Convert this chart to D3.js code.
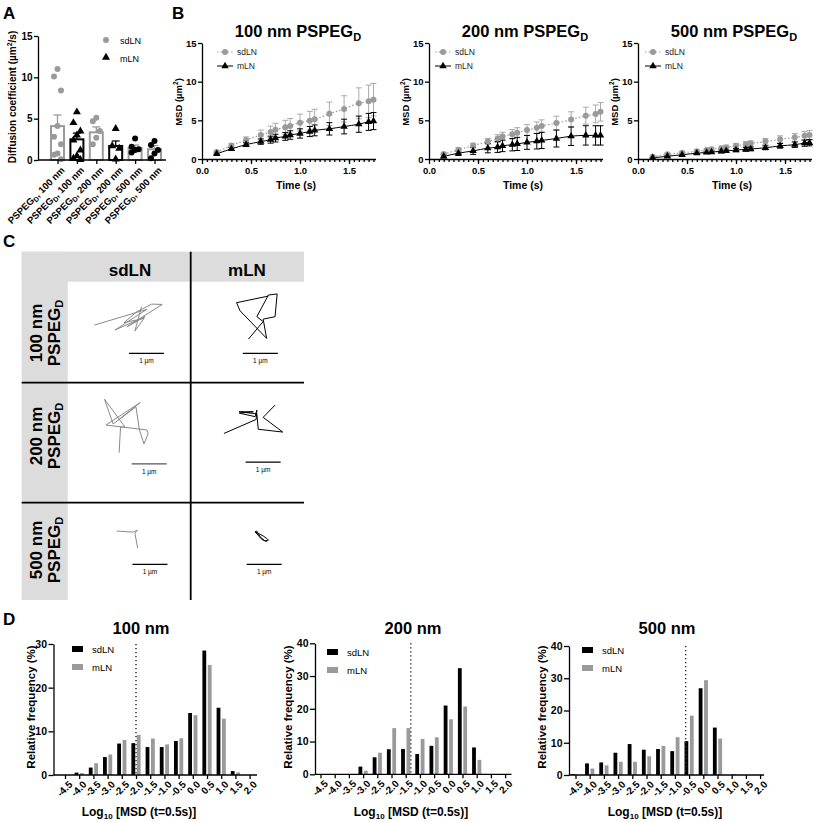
<!DOCTYPE html>
<html><head><meta charset="utf-8">
<script src="https://cdn.jsdelivr.net/npm/d3@7/dist/d3.min.js"></script>
<style>html,body{margin:0;padding:0;background:#fff;}</style>
</head><body>
<svg id="fig" width="817" height="822"></svg>
<script>
// ================= DATA =================
// Panel A
const aSizes = ["100 nm","100 nm","200 nm","200 nm","500 nm","500 nm"];
const aNodes = ["sdLN","mLN","sdLN","mLN","sdLN","mLN"];
const aMeans = [4.1, 2.5, 3.35, 1.7, 1.45, 1.3];
const aSem = [1.35, 0.75, 0.65, 0.6, 0.35, 0.45];
const aPoints = [
  [11.0, 10.1, 8.4, 4.1, 2.8, 1.9, 0.8, 0.65, 0.1],
  [5.8, 4.5, 3.5, 3.0, 2.4, 1.2, 0.5, 0.2, 0.05],
  [5.1, 4.7, 3.5, 2.7, 1.9],
  [3.8, 1.7, 1.4, 0.1],
  [2.6, 1.6, 1.3, 1.2, 0.9],
  [2.3, 1.8, 1.2, 0.8, 0.2]
];
const aTicks = [0, 5, 10, 15];

// Panel B
const bTime = [0.15,0.3,0.45,0.6,0.7,0.75,0.85,0.9,1.0,1.1,1.15,1.3,1.45,1.6,1.7,1.75];
const bTitles = ["100 nm PSPEG","200 nm PSPEG","500 nm PSPEG"];
const b100Sd    = [0.89,1.74,2.46,3.09,3.5,3.77,4.1,4.28,4.7,4.96,5.13,5.85,6.48,7.2,7.46,7.67];
const b100SdErr = [0.15,0.25,0.4,0.65,0.75,0.85,0.9,0.95,1.1,1.2,1.3,1.5,1.7,2.0,2.1,2.1];
const b100M     = [0.68,1.31,1.86,2.25,2.5,2.7,2.92,3.1,3.3,3.55,3.7,3.9,4.2,4.5,4.8,4.9];
const b100MErr  = [0.1,0.2,0.25,0.35,0.45,0.5,0.5,0.55,0.6,0.65,0.7,0.8,0.95,1.05,1.1,1.1];
const b200Sd    = [0.64,1.19,1.74,2.26,2.64,2.9,3.2,3.4,3.74,4.04,4.26,4.64,5.1,5.6,5.83,6.1];
const b200SdErr = [0.15,0.25,0.3,0.4,0.5,0.55,0.6,0.65,0.7,0.75,0.8,0.9,1.0,1.1,1.15,1.2];
const b200M     = [0.34,0.75,1.05,1.4,1.55,1.7,1.85,1.95,2.15,2.3,2.4,2.65,2.95,3.05,3.05,3.05];
const b200MErr  = [0.2,0.3,0.45,0.6,0.7,0.75,0.8,0.85,0.9,1.0,1.05,1.1,1.2,1.25,1.25,1.25];
const b500Sd    = [0.3,0.6,0.8,1.0,1.15,1.25,1.4,1.5,1.7,1.9,2.0,2.25,2.55,2.8,3.0,3.1];
const b500SdErr = [0.1,0.15,0.15,0.2,0.2,0.25,0.25,0.3,0.3,0.35,0.35,0.4,0.45,0.5,0.55,0.6];
const b500M     = [0.15,0.35,0.55,0.75,0.85,0.9,1.0,1.05,1.15,1.25,1.3,1.45,1.7,1.85,2.05,2.1];
const b500MErr  = [0.05,0.1,0.1,0.15,0.15,0.15,0.2,0.2,0.2,0.25,0.25,0.25,0.3,0.35,0.4,0.4];
const bYTicks = [0, 5, 10, 15];
const bXTicks = [0, 0.5, 1.0, 1.5];

// Panel C (trajectories in µm, cell-relative)
const cCols = ["sdLN", "mLN"];
const cRows = ["100 nm", "200 nm", "500 nm"];
const trajSd100 = [[0.76,1.24],[2.26,0.79],[1.35,1.38],[2.21,1.0],[1.69,1.29],[2.70,0.65],[2.40,0.64],[1.97,0.86],[1.61,1.17],[2.18,1.05],[1.92,1.41],[2.11,0.71]];
const trajM100  = [[1.65,1.64],[2.07,1.14],[1.89,1.0],[2.22,0.38],[2.47,0.35],[2.41,1.0],[2.07,1.07],[2.17,1.62],[1.41,0.83],[1.31,0.6],[2.22,0.41]];
const trajSd200 = [[1.47,2.0],[1.51,1.26],[1.64,1.27],[1.05,0.47],[1.30,1.18],[2.07,0.57],[1.09,1.21],[2.26,1.35],[2.30,1.45],[2.18,1.75],[2.05,1.35],[1.95,0.69],[1.45,1.07]];
const trajM200  = [[0.95,1.45],[1.87,1.05],[1.89,0.78],[1.84,0.97],[1.39,0.87],[1.79,0.83],[1.38,0.83],[1.89,0.89],[1.93,1.33],[2.63,1.41],[2.07,0.99],[2.41,0.64]];
const trajSd500 = [[1.4,0.81],[1.87,0.84],[1.99,0.78],[1.92,0.87],[2.0,1.30]];
const trajM500  = [[1.84,0.83],[2.07,0.95],[2.17,1.02],[2.22,1.07],[2.12,1.09],[1.98,0.97],[1.89,0.81],[1.84,0.83],[2.03,1.05],[2.17,1.11]];

// Panel D
const dBins = [-4.5,-4.0,-3.5,-3.0,-2.5,-2.0,-1.5,-1.0,-0.5,0.0,0.5,1.0,1.5,2.0];
const dTitles = ["100 nm","200 nm","500 nm"];
const d100Sd = [0,0.55,1.7,4.1,7.2,7.3,6.4,6.4,7.8,14.2,28.5,15.4,0.9,0];
const d100M  = [0,0.45,2.7,4.7,8.0,9.2,8.35,7.0,8.4,13.7,25.2,12.9,0.6,0];
const d200Sd = [0,0,0,2.35,5.2,7.65,7.75,6.2,8.7,21.0,32.4,8.2,0,0];
const d200M  = [0,0,0,1.1,6.6,14.1,14.1,10.8,11.3,16.8,20.7,4.4,0,0];
const d500Sd = [0.3,3.6,3.9,6.9,9.6,7.85,8.05,7.4,10.5,26.9,14.7,0,0,0];
const d500M  = [0,2.0,3.0,4.1,4.1,5.8,9.0,11.7,18.4,29.4,11.3,0.3,0,0];
const dThresholds = [-2.0, -1.32, -0.62];
const d100Ticks = [0,10,20,30];
const d200Ticks = [0,10,20,30,40];

// ================= DRAWING =================
const FONT = '"Liberation Sans", Arial, Helvetica, sans-serif';
const GRAY = "#9a9a9a";
const svg = d3.select("#fig").attr("font-family", FONT);
svg.append("rect").attr("width",817).attr("height",822).attr("fill","#fff");

function styleAxis(sel, fs) {
  sel.attr("font-family", FONT).attr("font-size", fs).attr("font-weight", "bold");
  sel.selectAll(".domain, .tick line").attr("stroke", "#000").attr("stroke-width", 1.3);
  sel.selectAll("text").attr("fill", "#000");
  return sel;
}
function label(g, x, y, t, o = {}) {
  return g.append("text").attr("x", x).attr("y", y).text(t)
    .attr("font-size", o.fs || 10).attr("font-weight", o.fw || "bold")
    .attr("text-anchor", o.anchor || "start").attr("fill", o.fill || "#000");
}

// Panel letters
[["A",3,19],["B",172,19],["C",3,247],["D",3,625]].forEach(([t,x,y]) => label(svg, x, y, t, {fs: 17}));

// ---------- Panel A ----------
(function () {
  const g = svg.append("g");
  const y = d3.scaleLinear().domain([0, 15]).range([160, 36]);
  const x = d3.scalePoint().domain(d3.range(aMeans.length)).range([57.5, 154.5]);
  const barStroke = aNodes.map((n, i) => (aSizes[i] === "500 nm" || n === "sdLN") ? GRAY : "#000");
  const ptFill = aNodes.map((n, i) => (aSizes[i] === "500 nm" || n === "mLN") ? "#000" : GRAY);
  const ptTri = aNodes.map((n, i) => n === "mLN" && aSizes[i] !== "500 nm");
  const jit = [0, -3.5, 3.5];

  g.selectAll("rect.bar").data(aMeans).join("rect").attr("class", "bar")
    .attr("x", (d, i) => x(i) - 6.5).attr("width", 13)
    .attr("y", d => y(d)).attr("height", d => y(0) - y(d))
    .attr("fill", "none").attr("stroke", (d, i) => barStroke[i]).attr("stroke-width", 2);

  aMeans.forEach((m, i) => {
    const top = y(m + aSem[i]);
    g.append("line").attr("x1", x(i)).attr("x2", x(i)).attr("y1", y(m)).attr("y2", top)
      .attr("stroke", barStroke[i]).attr("stroke-width", 1.3);
    g.append("line").attr("x1", x(i) - 4).attr("x2", x(i) + 4).attr("y1", top).attr("y2", top)
      .attr("stroke", barStroke[i]).attr("stroke-width", 1.3);
  });

  aPoints.forEach((arr, i) => {
    arr.forEach((v, j) => {
      const px = x(i) + jit[j % 3], py = y(v);
      if (ptTri[i]) {
        g.append("path").attr("d", d3.symbol(d3.symbolTriangle, 28)())
          .attr("transform", `translate(${px},${py})`).attr("fill", ptFill[i]);
      } else {
        g.append("circle").attr("cx", px).attr("cy", py).attr("r", 3).attr("fill", ptFill[i]);
      }
    });
  });

  const ay = g.append("g").attr("transform", "translate(38,0)")
    .call(d3.axisLeft(y).tickValues(aTicks).tickSize(4).tickSizeOuter(0).tickPadding(1.5));
  styleAxis(ay, 10);
  const ax = g.append("g").attr("transform", "translate(0,160)")
    .call(d3.axisBottom(x).tickSize(4).tickFormat(""));
  ax.select(".domain").remove();
  styleAxis(ax, 9);
  g.append("line").attr("x1", 38).attr("x2", 166).attr("y1", 160).attr("y2", 160)
    .attr("stroke", "#000").attr("stroke-width", 1.3);

  aSizes.forEach((s, i) => {
    const t = g.append("text").attr("transform", `translate(${x(i) + 3},166) rotate(-45)`)
      .attr("text-anchor", "end").attr("dy", "0.72em")
      .attr("font-size", 9.5).attr("font-weight", "bold");
    t.append("tspan").text("PSPEG");
    t.append("tspan").text("D").attr("font-size", 7).attr("dy", 2);
    t.append("tspan").text(", " + s).attr("dy", -2);
  });

  const yl = g.append("text").attr("transform", "translate(16,97) rotate(-90)")
    .attr("text-anchor", "middle").attr("font-size", 10).attr("font-weight", "bold");
  yl.append("tspan").text("Diffusion coefficient (\u00b5m");
  yl.append("tspan").text("2").attr("font-size", 7).attr("dy", -4);
  yl.append("tspan").text("/s)").attr("dy", 4);

  // legend
  g.append("circle").attr("cx", 106).attr("cy", 40).attr("r", 3).attr("fill", GRAY);
  label(g, 120, 43.5, "sdLN", {fs: 9, fw: "normal"});
  g.append("path").attr("d", d3.symbol(d3.symbolTriangle, 28)()).attr("transform", "translate(106,57.5)");
  label(g, 120, 61.5, "mLN", {fs: 9, fw: "normal"});
})();

// ---------- Panel B ----------
const bCharts = [
  {ax: 202, sd: b100Sd, sdE: b100SdErr, m: b100M, mE: b100MErr, leg: 15, title: bTitles[0]},
  {ax: 429, sd: b200Sd, sdE: b200SdErr, m: b200M, mE: b200MErr, leg: 6, title: bTitles[1]},
  {ax: 638, sd: b500Sd, sdE: b500SdErr, m: b500M, mE: b500MErr, leg: 7, title: bTitles[2]}
];
bCharts.forEach(cfg => {
  const g = svg.append("g");
  const x = d3.scaleLinear().domain([0, 1.77]).range([cfg.ax, cfg.ax + 1.77 * 98]);
  const y = d3.scaleLinear().domain([0, 15]).range([159, 43]);

  const gy = g.append("g").attr("transform", `translate(${cfg.ax},0)`)
    .call(d3.axisLeft(y).tickValues(bYTicks).tickSize(4).tickSizeOuter(0).tickPadding(1.5));
  styleAxis(gy, 9.5);
  const gx = g.append("g").attr("transform", "translate(0,159)")
    .call(d3.axisBottom(x).tickValues(bXTicks).tickSize(5).tickSizeOuter(0).tickPadding(3)
      .tickFormat(d => d.toFixed(1)));
  styleAxis(gx, 9.5);
  const gm = g.append("g").attr("transform", "translate(0,159)")
    .call(d3.axisBottom(x).tickValues(d3.range(1, 36).map(k => k * 0.05)).tickSize(3).tickFormat(""));
  gm.select(".domain").remove();
  styleAxis(gm, 9);

  function errs(vals, e, col) {
    vals.forEach((v, i) => {
      const cx = x(bTime[i]), t = y(v + e[i]), b = y(Math.max(0, v - e[i]));
      g.append("line").attr("x1", cx).attr("x2", cx).attr("y1", t).attr("y2", b).attr("stroke", col).attr("stroke-width", 1);
      [t, b].forEach(yy => g.append("line").attr("x1", cx - 3).attr("x2", cx + 3).attr("y1", yy).attr("y2", yy).attr("stroke", col).attr("stroke-width", 1));
    });
  }
  errs(cfg.sd, cfg.sdE, "#aaaaaa");
  errs(cfg.m, cfg.mE, "#000");

  const line = d3.line().x((d, i) => x(bTime[i])).y(d => y(d)).curve(d3.curveMonotoneX);
  g.append("path").attr("d", line(cfg.sd)).attr("fill", "none").attr("stroke", GRAY)
    .attr("stroke-width", 1.2).attr("stroke-dasharray", "1.5,2");
  g.append("path").attr("d", line(cfg.m)).attr("fill", "none").attr("stroke", "#000").attr("stroke-width", 1);

  cfg.sd.forEach((v, i) => g.append("circle").attr("cx", x(bTime[i])).attr("cy", y(v)).attr("r", 3).attr("fill", GRAY));
  cfg.m.forEach((v, i) => g.append("path").attr("d", d3.symbol(d3.symbolTriangle, 24)())
    .attr("transform", `translate(${x(bTime[i])},${y(v)})`).attr("fill", "#000"));

  // legend
  const lx = cfg.ax + cfg.leg;
  g.append("line").attr("x1", lx).attr("x2", lx + 16).attr("y1", 52).attr("y2", 52)
    .attr("stroke", GRAY).attr("stroke-width", 1.2).attr("stroke-dasharray", "1.5,2");
  g.append("circle").attr("cx", lx + 8).attr("cy", 52).attr("r", 3).attr("fill", GRAY);
  label(g, lx + 20, 55, "sdLN", {fs: 8.5, fw: "normal", fill: "#222"});
  g.append("line").attr("x1", lx).attr("x2", lx + 16).attr("y1", 66).attr("y2", 66)
    .attr("stroke", "#000").attr("stroke-width", 1);
  g.append("path").attr("d", d3.symbol(d3.symbolTriangle, 24)()).attr("transform", `translate(${lx + 8},66)`);
  label(g, lx + 20, 69, "mLN", {fs: 8.5, fw: "normal", fill: "#222"});

  // title
  const cx = cfg.ax + 96;
  const tt = g.append("text").attr("x", cx).attr("y", 37).attr("text-anchor", "middle")
    .attr("font-size", 16.5).attr("font-weight", "bold");
  tt.append("tspan").text(cfg.title);
  tt.append("tspan").text("D").attr("font-size", 11).attr("dy", 4);

  const yl = g.append("text").attr("transform", `translate(${cfg.ax - 20},102) rotate(-90)`)
    .attr("text-anchor", "middle").attr("font-size", 9.5).attr("font-weight", "bold");
  yl.append("tspan").text("MSD (\u00b5m");
  yl.append("tspan").text("2").attr("font-size", 6.5).attr("dy", -4);
  yl.append("tspan").text(")").attr("dy", 4);

  label(g, cfg.ax + 94, 189, "Time (s)", {fs: 10.5, anchor: "middle"});
});

// ---------- Panel C ----------
(function () {
  const g = svg.append("g");
  const colX = [67.7, 190.7], rowY = [281.7, 382.7, 502.7];
  const left = 21.7, right = 304, top = 251.7, bottom = 600;
  const PX = 35;
  g.append("rect").attr("x", left).attr("y", top).attr("width", right - left).attr("height", 30).attr("fill", "#dcdcdc");
  g.append("rect").attr("x", left).attr("y", top).attr("width", 46).attr("height", bottom - top).attr("fill", "#dcdcdc");
  g.append("line").attr("x1", colX[1]).attr("x2", colX[1]).attr("y1", top).attr("y2", bottom).attr("stroke", "#000").attr("stroke-width", 1.8);
  [rowY[1], rowY[2]].forEach(yy => g.append("line").attr("x1", left).attr("x2", right).attr("y1", yy).attr("y2", yy)
    .attr("stroke", "#000").attr("stroke-width", 1.8));

  label(g, 130, 276, cCols[0], {fs: 17, anchor: "middle"});
  label(g, 247, 276, cCols[1], {fs: 17, anchor: "middle"});

  const rowCenters = [333, 436, 550];
  cRows.forEach((r, i) => {
    label(g, 0, 0, r, {fs: 17, anchor: "middle"}).attr("transform", `translate(42,${rowCenters[i]}) rotate(-90)`).attr("x", null).attr("y", null);
    const t = g.append("text").attr("transform", `translate(60,${rowCenters[i]}) rotate(-90)`)
      .attr("text-anchor", "middle").attr("font-size", 17).attr("font-weight", "bold");
    t.append("tspan").text("PSPEG");
    t.append("tspan").text("D").attr("font-size", 11).attr("dy", 3);
  });

  const trajs = [[trajSd100, trajM100], [trajSd200, trajM200], [trajSd500, trajM500]];
  const bars = [[[1.75, 2.05], [1.49, 2.05]], [[1.83, 2.32], [1.57, 2.27]], [[1.85, 1.76], [1.6, 1.76]]];
  trajs.forEach((pair, r) => {
    pair.forEach((tr, c) => {
      const sx = d3.scaleLinear().domain([0, 1]).range([colX[c], colX[c] + PX]);
      const sy = d3.scaleLinear().domain([0, 1]).range([rowY[r], rowY[r] + PX]);
      const ln = d3.line().x(d => sx(d[0])).y(d => sy(d[1]));
      g.append("path").attr("d", ln(tr)).attr("fill", "none")
        .attr("stroke", c === 0 ? "#8a8a8a" : "#000").attr("stroke-width", 1).attr("stroke-linejoin", "miter");
      const [bx, by] = bars[r][c];
      g.append("line").attr("x1", sx(bx)).attr("x2", sx(bx + 1)).attr("y1", sy(by)).attr("y2", sy(by))
        .attr("stroke", c === 0 && r === 1 ? "#555" : "#000").attr("stroke-width", 1.3);
      label(g, sx(bx + 0.5), sy(by) + 10, "1 \u00b5m", {fs: 6.5, fw: "normal", anchor: "middle"});
    });
  });
})();

// ---------- Panel D ----------
const dCharts = [
  {axisX: 53.5, x0: 65, axisEnd: 257, y0: 775, yTop: 644, yMax: 30, ticks: d100Ticks, sd: d100Sd, m: d100M, thr: dThresholds[0], title: dTitles[0], lx: 72, ly: 649, yl: 35, cx: 141},
  {axisX: 315, x0: 320.5, axisEnd: 511.5, y0: 774.3, yTop: 643.3, yMax: 40, ticks: d200Ticks, sd: d200Sd, m: d200M, thr: dThresholds[1], title: dTitles[1], lx: 327, ly: 652, yl: 292, cx: 413},
  {axisX: 569, x0: 575.5, axisEnd: 764, y0: 775, yTop: 646, yMax: 40, ticks: d200Ticks, sd: d500Sd, m: d500M, thr: dThresholds[2], title: dTitles[2], lx: 582, ly: 650, yl: 546, cx: 667}
];
dCharts.forEach(cfg => {
  const g = svg.append("g");
  const x = d3.scaleLinear().domain([-4.5, 2.0]).range([cfg.x0, cfg.x0 + 6.5 * 28.4]);
  const y = d3.scaleLinear().domain([0, cfg.yMax]).range([cfg.y0, cfg.yTop]);
  const bw = 3.8, off = 2.7;

  g.selectAll("rect.sd").data(cfg.sd).join("rect")
    .attr("x", (d, i) => x(dBins[i]) - off - bw / 2).attr("width", bw)
    .attr("y", d => y(d)).attr("height", d => y(0) - y(d)).attr("fill", "#000");
  g.selectAll("rect.m").data(cfg.m).join("rect")
    .attr("x", (d, i) => x(dBins[i]) + off - bw / 2).attr("width", bw)
    .attr("y", d => y(d)).attr("height", d => y(0) - y(d)).attr("fill", GRAY);

  g.append("line").attr("x1", x(cfg.thr)).attr("x2", x(cfg.thr)).attr("y1", y(cfg.yMax)).attr("y2", cfg.y0)
    .attr("stroke", "#333").attr("stroke-width", 1.5).attr("stroke-dasharray", "1.3,2.7");

  const gy = g.append("g").attr("transform", `translate(${cfg.axisX},0)`)
    .call(d3.axisLeft(y).tickValues(cfg.ticks).tickSize(5).tickSizeOuter(0).tickPadding(1.5));
  styleAxis(gy, 10.5);
  const gx = g.append("g").attr("transform", `translate(0,${cfg.y0})`)
    .call(d3.axisBottom(x).tickValues(dBins).tickSize(4).tickFormat(""));
  gx.select(".domain").remove();
  styleAxis(gx, 9);
  g.append("line").attr("x1", cfg.axisX).attr("x2", cfg.axisEnd).attr("y1", cfg.y0).attr("y2", cfg.y0)
    .attr("stroke", "#000").attr("stroke-width", 1.3);
  dBins.forEach(b => {
    g.append("text").attr("transform", `translate(${x(b) + 3},${cfg.y0 + 5}) rotate(-45)`)
      .attr("dy", "0.72em").attr("text-anchor", "end").attr("font-size", 10).attr("font-weight", "bold")
      .text(b.toFixed(1));
  });

  label(g, cfg.cx, 634, cfg.title, {fs: 16.5, anchor: "middle"});

  g.append("rect").attr("x", cfg.lx).attr("y", cfg.ly - 3).attr("width", 11).attr("height", 6).attr("fill", "#000");
  label(g, cfg.lx + 20, cfg.ly + 3.5, "sdLN", {fs: 9.5, fw: "normal"});
  g.append("rect").attr("x", cfg.lx).attr("y", cfg.ly + 15).attr("width", 11).attr("height", 6).attr("fill", GRAY);
  label(g, cfg.lx + 20, cfg.ly + 21.5, "mLN", {fs: 9.5, fw: "normal"});

  label(g, 0, 0, "Relative frequency (%)", {fs: 11.5, anchor: "middle"})
    .attr("x", null).attr("y", null).attr("transform", `translate(${cfg.yl},707) rotate(-90)`);

  const xl = g.append("text").attr("x", cfg.cx - 2).attr("y", 816).attr("text-anchor", "middle")
    .attr("font-size", 12).attr("font-weight", "bold");
  xl.append("tspan").text("Log");
  xl.append("tspan").text("10").attr("font-size", 8).attr("dy", 3);
  xl.append("tspan").text(" [MSD (t=0.5s)]").attr("dy", -3);
});
</script>
</body></html>
